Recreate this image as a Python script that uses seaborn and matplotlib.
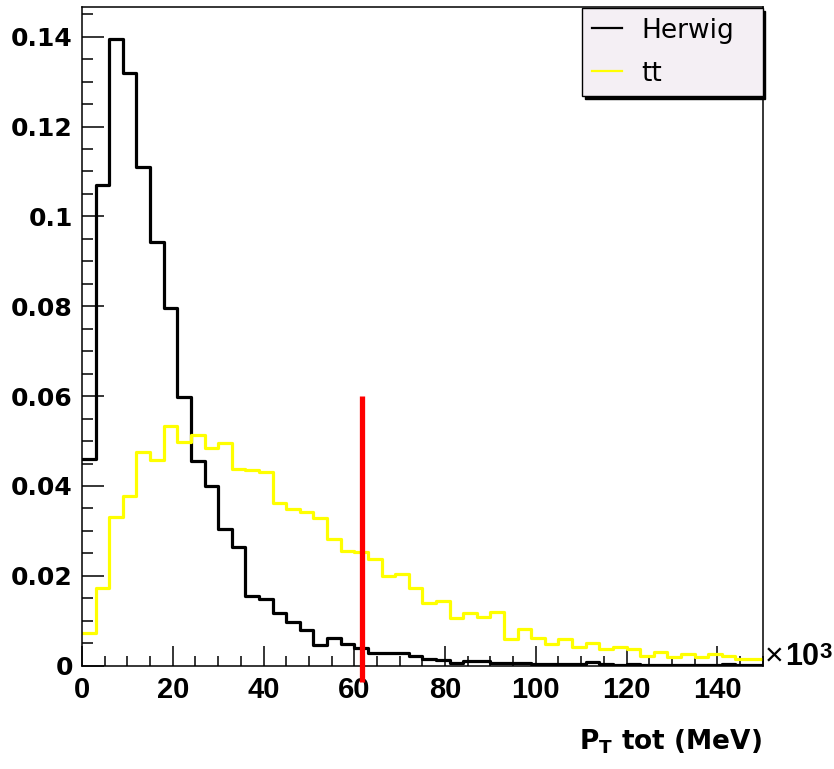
import numpy as np
import pandas as pd
import matplotlib
matplotlib.use("Agg")
import matplotlib.pyplot as plt
from matplotlib.lines import Line2D
from matplotlib.ticker import MultipleLocator, FuncFormatter
import seaborn as sns

# Histogram binning: 50 bins of 3 (x10^3 MeV) from 0 to 150
bin_edges = list(range(0, 151, 3))

# Normalised bin contents
herwig = [0.046, 0.107, 0.1395, 0.132, 0.111, 0.0943, 0.0795, 0.0597, 0.0456, 0.040,
          0.0304, 0.0264, 0.0155, 0.0148, 0.0117, 0.0098, 0.0080, 0.0045, 0.0061, 0.0048,
          0.0039, 0.0028, 0.0028, 0.0028, 0.0022, 0.0016, 0.0013, 0.0005, 0.0011, 0.0011,
          0.0005, 0.0007, 0.0005, 0.0004, 0.0003, 0.0003, 0.0003, 0.0008, 0.0003, 0.0002,
          0.0003, 0.0002, 0.0002, 0.0002, 0.0001, 0.0002, 0.0002, 0.0004, 0.0001, 0.0001]
ttbar = [0.0072, 0.0174, 0.0332, 0.0378, 0.0475, 0.0458, 0.0533, 0.0497, 0.0513, 0.0484,
         0.0496, 0.0438, 0.0435, 0.0432, 0.0362, 0.0349, 0.0342, 0.0328, 0.0281, 0.0256,
         0.0254, 0.0237, 0.0200, 0.0203, 0.0174, 0.0140, 0.0143, 0.0107, 0.0117, 0.0109,
         0.0119, 0.0059, 0.0081, 0.0062, 0.0048, 0.0059, 0.0042, 0.0051, 0.0037, 0.0042,
         0.0037, 0.0022, 0.0031, 0.0020, 0.0025, 0.0019, 0.0025, 0.0022, 0.0016, 0.0016]
series_labels = ["Herwig", "tt"]

# Cut position and its drawn extent
cut_x = 61.6
cut_y = [-0.0036, 0.06]

x_ticks = [0, 20, 40, 60, 80, 100, 120, 140]
y_ticks = [0, 0.02, 0.04, 0.06, 0.08, 0.1, 0.12, 0.14]

edges = np.asarray(bin_edges, dtype=float)
centers = (edges[:-1] + edges[1:]) / 2
df = pd.DataFrame({"pt": np.concatenate([centers, centers]),
                   "w": np.concatenate([herwig, ttbar]),
                   "sample": [series_labels[0]] * len(centers) + [series_labels[1]] * len(centers)})

W, H = 834, 769
fig = plt.figure(figsize=(W / 100, H / 100), dpi=100)
fig.patch.set_facecolor("white")
ax = fig.add_axes([82 / W, 1 - 665.7 / H, (762.7 - 82) / W, (665.7 - 7) / H])

colors = {"Herwig": "black", "tt": "#ffff00"}
for name in series_labels:
    sub = df[df["sample"] == name]
    sns.histplot(data=sub, x="pt", weights="w", bins=bin_edges, element="step",
                 fill=False, color=colors[name], linewidth=2.3, ax=ax)

ax.plot([cut_x, cut_x], cut_y, color="#ff0000", linewidth=3.8, clip_on=False,
        solid_capstyle="butt", zorder=5)

ax.set_xlim(0, 150)
ax.set_ylim(0, 0.1466)
ax.set_xlabel("")
ax.set_ylabel("")

ax.set_xticks(x_ticks)
ax.set_yticks(y_ticks)
ax.xaxis.set_minor_locator(MultipleLocator(5))
ax.yaxis.set_minor_locator(MultipleLocator(0.005))
ax.yaxis.set_major_formatter(FuncFormatter(lambda v, p: f"{v:g}"))
ax.tick_params(axis="both", which="both", direction="in", top=False, right=False, width=1.1)
ax.tick_params(axis="x", which="major", length=14.5, pad=7.5)
ax.tick_params(axis="x", which="minor", length=7.5)
ax.tick_params(axis="y", which="major", length=16, pad=6.5)
ax.tick_params(axis="y", which="minor", length=8)
for lab in ax.get_xticklabels():
    lab.set_fontfamily("Liberation Sans")
    lab.set_fontweight("bold")
    lab.set_fontsize(21)
for lab in ax.get_yticklabels():
    lab.set_fontfamily("DejaVu Sans")
    lab.set_fontweight("bold")
    lab.set_fontsize(18)
for sp in ax.spines.values():
    sp.set_linewidth(1.1)
    sp.set_color("black")

# Legend
handles = [Line2D([], [], color="black", linewidth=1.6),
           Line2D([], [], color="#ffff00", linewidth=1.6)]
leg = ax.legend(handles, series_labels, loc="upper left",
                bbox_to_anchor=(582 / W, 1 - 8 / H, (762.7 - 582) / W, 0.0),
                bbox_transform=fig.transFigure, mode="expand", borderaxespad=0,
                fancybox=False, frameon=True, facecolor="#f4eff4", edgecolor="black",
                framealpha=1, shadow={"color": "black", "alpha": 1},
                prop={"family": "DejaVu Sans", "size": 19},
                handlelength=1.14, handletextpad=0.76, borderpad=0.36, labelspacing=0.65)
leg.get_frame().set_linewidth(1.0)

# Axis title and exponent
fig.text(762 / W, 1 - 750 / H, r"P$_{\mathregular{T}}$ tot (MeV)", ha="right", va="baseline",
         fontsize=19, fontweight="bold", family="DejaVu Sans")
fig.text(765 / W, 1 - 665 / H, "×", ha="left", va="baseline", fontsize=23,
         family="Liberation Sans")
fig.text(785 / W, 1 - 665 / H, "10", ha="left", va="baseline", fontsize=22,
         fontweight="bold", family="Liberation Sans")
fig.text(819 / W, 1 - 658 / H, "3", ha="left", va="baseline", fontsize=16,
         fontweight="bold", family="Liberation Sans")

fig.savefig("out.png", dpi=100, facecolor="white")
